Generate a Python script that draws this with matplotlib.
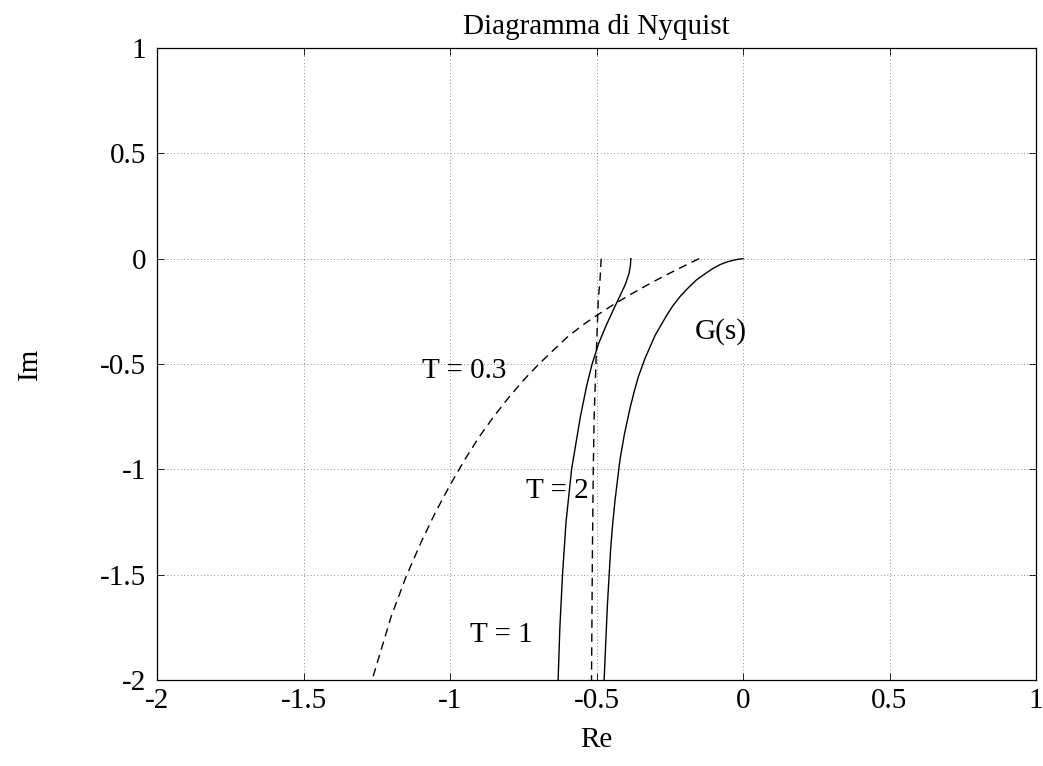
import matplotlib
matplotlib.use("Agg")
import matplotlib.pyplot as plt

# curves (Re, Im)
g_re = [0.0, -0.012, -0.025, -0.040, -0.056, -0.078, -0.101, -0.130, -0.158, -0.188,
        -0.215, -0.240, -0.260, -0.300, -0.334, -0.357, -0.371, -0.386, -0.405,
        -0.420, -0.437, -0.445, -0.452, -0.463, -0.474]
g_im = [0.0, -0.002, -0.005, -0.010, -0.016, -0.028, -0.045, -0.072, -0.100, -0.140,
        -0.180, -0.225, -0.268, -0.364, -0.472, -0.560, -0.629, -0.712, -0.835,
        -0.955, -1.150, -1.262, -1.384, -1.650, -2.0]

t1_re = [-0.383, -0.384, -0.389, -0.401, -0.421, -0.445, -0.468, -0.492, -0.515,
         -0.533, -0.555, -0.585, -0.604, -0.616, -0.625, -0.631]
t1_im = [0.0, -0.03, -0.07, -0.12, -0.18, -0.25, -0.32, -0.40, -0.50,
         -0.60, -0.75, -1.0, -1.25, -1.5, -1.75, -2.0]

t03_re = [-0.150, -0.20, -0.25, -0.30, -0.35, -0.40, -0.45, -0.50, -0.55, -0.60,
          -0.65, -0.70, -0.75, -0.80, -0.85, -0.90, -0.95, -1.0, -1.05, -1.10,
          -1.15, -1.20, -1.266]
t03_im = [0.0, -0.034, -0.069, -0.105, -0.143, -0.183, -0.225, -0.270, -0.318, -0.373,
          -0.438, -0.505, -0.578, -0.660, -0.748, -0.845, -0.955, -1.075, -1.205, -1.350,
          -1.510, -1.695, -2.0]

t2_re = [-0.484, -0.488, -0.494, -0.502, -0.508, -0.511, -0.514, -0.517]
t2_im = [0.0, -0.1, -0.195, -0.5, -0.75, -1.0, -1.4, -2.0]

ticks_x = [-2, -1.5, -1, -0.5, 0, 0.5, 1]
ticks_y = [-2, -1.5, -1, -0.5, 0, 0.5, 1]

plt.rcParams["font.family"] = ["Liberation Serif", "DejaVu Serif"]
fs = 21

fig = plt.figure(figsize=(10.43, 7.66), dpi=100)
ax = fig.add_axes([157/1043, 86/766, 879/1043, 632/766])

ax.plot(g_re, g_im, color="black", lw=1.0)
ax.plot(t1_re, t1_im, color="black", lw=1.0)
ax.plot(t03_re, t03_im, color="black", lw=1.0, linestyle=(0, (6, 4)))
ax.plot(t2_re, t2_im, color="black", lw=1.0, linestyle=(0, (6, 4)))

ax.text(-0.075, -0.346, "G(s)", fontsize=fs, ha="center", va="center")
ax.text(-0.952, -0.535, "T = 0.3", fontsize=fs, ha="center", va="center")
ax.text(-0.633, -1.104, "T = 2", fontsize=fs, ha="center", va="center")
ax.text(-0.824, -1.785, "T = 1", fontsize=fs, ha="center", va="center")

ax.set_xlim(-2, 1)
ax.set_ylim(-2, 1)
ax.set_xticks(ticks_x)
ax.set_yticks(ticks_y)
ax.set_xticklabels([f"{v:g}" for v in ticks_x])
ax.set_yticklabels([f"{v:g}" for v in ticks_y])
ax.tick_params(direction="in", length=5, width=0.6, labelsize=fs,
               top=True, right=True)
ax.tick_params(axis="x", pad=6)
ax.tick_params(axis="y", pad=8)
ax.grid(True, linestyle=(0, (1, 3)), color="black", lw=0.6, alpha=0.6)
for sp in ax.spines.values():
    sp.set_linewidth(0.9)

ax.set_title("Diagramma di Nyquist", fontsize=fs, pad=10)
ax.set_xlabel("Re", fontsize=fs, va="center")
ax.set_ylabel("Im", fontsize=fs, va="center")
ax.xaxis.set_label_coords(0.5, -(740 - 680) / 632)
ax.yaxis.set_label_coords((30 - 157) / 879, 0.5)

fig.savefig("out.png", dpi=100)
